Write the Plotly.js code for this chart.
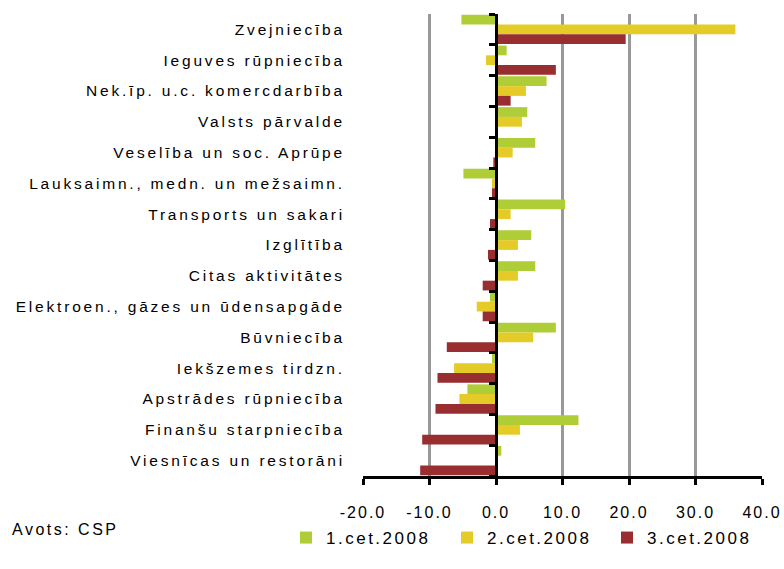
<!DOCTYPE html>
<html>
<head>
<meta charset="utf-8">
<script src="https://cdn.plot.ly/plotly-3.0.1.min.js"></script>
<style>
html,body{margin:0;padding:0;background:#fff;}
#chart{width:784px;height:569px;}
.ytick text{letter-spacing:2.8px;}
.xtick text{letter-spacing:2px;}
.legendtext, .legend text, .legend2 text, .legend3 text{letter-spacing:2.5px;}
.legend .scrollbox, .legend2 .scrollbox, .legend3 .scrollbox{clip-path:none !important;}
.annotation-text{letter-spacing:2.5px;}
</style>
</head>
<body>
<div id="chart"></div>
<script>
const categories = [
  "Zvejniecība",
  "Ieguves rūpniecība",
  "Nek.īp. u.c. komercdarbība",
  "Valsts pārvalde",
  "Veselība un soc. Aprūpe",
  "Lauksaimn., medn. un mežsaimn.",
  "Transports un sakari",
  "Izglītība",
  "Citas aktivitātes",
  "Elektroen., gāzes un ūdensapgāde",
  "Būvniecība",
  "Iekšzemes tirdzn.",
  "Apstrādes rūpniecība",
  "Finanšu starpniecība",
  "Viesnīcas un restorāni"
];
const seriesNames = ["1.cet.2008", "2.cet.2008", "3.cet.2008"];
const q1 = [-5.2, 1.6, 7.6, 4.7, 5.9, -4.9, 10.4, 5.3, 5.9, -0.9, 9.0, -0.6, -4.3, 12.4, 0.8];
const q2 = [36.0, -1.5, 4.5, 3.9, 2.5, -0.6, 2.2, 3.3, 3.3, -2.9, 5.6, -6.3, -5.5, 3.6, 0.1];
const q3 = [19.5, 9.0, 2.2, 0.1, -0.4, -0.6, -0.9, -1.2, -2.0, -2.0, -7.4, -8.8, -9.1, -11.1, -11.4];
const xTicks = [-20, -10, 0, 10, 20, 30, 40];
const colors = ["#AECD36", "#E5CB27", "#982E2F"];

const font = "Liberation Sans, Arial, sans-serif";
const idx = categories.map((_, i) => i);
const boundaries = categories.map((_, i) => i - 0.5).concat([categories.length - 0.5]);
const legendIds = ["legend", "legend2", "legend3"];
const legendX = [286, 447, 607];

const data = [q1, q2, q3].map((vals, k) => ({
  type: "bar",
  orientation: "h",
  name: seriesNames[k],
  x: vals,
  y: idx,
  legend: legendIds[k],
  marker: {color: colors[k]},
  hoverinfo: "x+name"
}));
// helper trace so that the zero-position tick axis exists
data.push({type: "scatter", mode: "none", x: [], y: [], yaxis: "y2", showlegend: false, hoverinfo: "skip"});

const layout = {
  width: 784,
  height: 569,
  margin: {l: 363, r: 22, t: 14, b: 93},
  paper_bgcolor: "#fff",
  plot_bgcolor: "#fff",
  font: {family: font, size: 15, color: "#000"},
  barmode: "group",
  bargap: 0.05,
  bargroupgap: 0,
  showlegend: true,
  xaxis: {
    range: [-20, 40],
    tickvals: xTicks,
    ticktext: xTicks.map(v => v.toFixed(1)),
    showgrid: true,
    gridcolor: "#999999",
    gridwidth: 3,
    zeroline: true,
    zerolinecolor: "#000",
    zerolinewidth: 3,
    showline: true,
    linecolor: "#000",
    linewidth: 3,
    ticks: "outside",
    ticklen: 6,
    tickwidth: 3,
    tickcolor: "#000",
    ticklabelstandoff: 14,
    tickfont: {family: font, size: 16, color: "#000"},
    fixedrange: true
  },
  yaxis: {
    type: "linear",
    range: [categories.length - 0.5, -0.5],
    tickvals: idx,
    ticktext: categories,
    showgrid: false,
    zeroline: false,
    showline: false,
    ticks: "outside",
    ticklen: 14,
    tickcolor: "rgba(0,0,0,0)",
    tickfont: {family: font, size: 15.5, color: "#000"},
    fixedrange: true
  },
  yaxis2: {
    overlaying: "y",
    anchor: "free",
    position: 1 / 3,
    range: [categories.length - 0.5, -0.5],
    tickvals: boundaries,
    showticklabels: false,
    showgrid: false,
    zeroline: false,
    showline: true,
    linecolor: "#000",
    linewidth: 3,
    ticks: "outside",
    ticklen: 6,
    tickwidth: 3,
    tickcolor: "#000",
    fixedrange: true
  },
  annotations: [{
    text: "Avots: CSP",
    xref: "paper", yref: "paper",
    x: -353 / 399, xanchor: "left",
    y: -53 / 462, yanchor: "middle",
    showarrow: false,
    font: {family: font, size: 16, color: "#000"}
  }]
};

legendIds.forEach((id, k) => {
  layout[id] = {
    orientation: "h",
    xref: "container", yref: "container",
    x: legendX[k] / 784, xanchor: "left",
    y: 1 - 520 / 569, yanchor: "top",
    font: {family: font, size: 17, color: "#000"},
    itemwidth: 30,
    bgcolor: "rgba(0,0,0,0)"
  };
});

Plotly.newPlot("chart", data, layout, {displayModeBar: false, staticPlot: true});
</script>
</body>
</html>
